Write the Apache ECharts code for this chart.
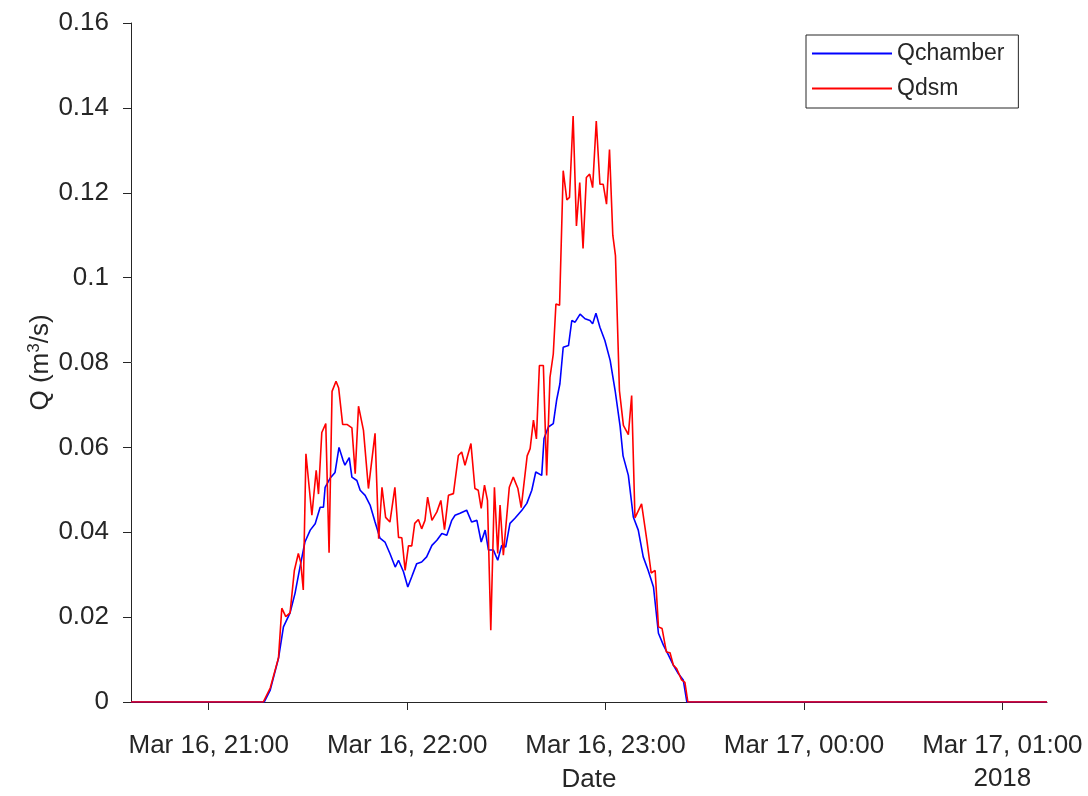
<!DOCTYPE html>
<html>
<head>
<meta charset="utf-8">
<script src="https://cdn.jsdelivr.net/npm/echarts@6/dist/echarts.min.js"></script>
<style>
html,body{margin:0;padding:0;background:#fff;}
#chart{width:1088px;height:796px;}
</style>
</head>
<body>
<div id="chart"></div>
<script>
// Time is in minutes after Mar 16, 21:00
const xMin = -23.5;
const xMax = 253.5;
const tickMinutes = [0, 60, 120, 180, 240];
const tickLabels = ['Mar 16, 21:00', 'Mar 16, 22:00', 'Mar 16, 23:00', 'Mar 17, 00:00', 'Mar 17, 01:00'];
const yearLabel = '2018';
const yTicks = [0, 0.02, 0.04, 0.06, 0.08, 0.1, 0.12, 0.14, 0.16];

const chamberTime = [-23.5, 16.8, 18.6, 21.1, 22.6, 24.6, 26.1, 27.6, 29.1, 30.7, 32.2, 33.7, 34.7, 35.2, 36.7, 38.2, 39.4, 40.6, 41.2, 42.5, 43.3, 44.8, 45.8, 47.3, 48.8, 50.3, 51.8, 53.3, 54.8, 56.4, 57.4, 58.9, 60.2, 61.4, 62.9, 64.4, 65.9, 67.5, 69.0, 70.5, 72.0, 73.5, 74.5, 76.0, 78.0, 79.5, 81.1, 82.4, 83.6, 84.6, 86.1, 87.4, 88.6, 89.8, 91.1, 92.6, 94.7, 96.2, 97.7, 98.9, 100.7, 101.4, 102.7, 104.2, 105.2, 106.2, 107.2, 108.8, 109.8, 110.8, 112.3, 113.8, 115.3, 116.1, 117.1, 118.3, 119.8, 121.4, 122.9, 124.4, 125.3, 126.9, 128.4, 129.9, 131.4, 132.9, 134.5, 136.0, 137.5, 139.0, 140.5, 142.0, 143.5, 144.6, 253.5];
const chamberQ = [0, 0, 0.0028, 0.0103, 0.0177, 0.021, 0.0256, 0.0318, 0.0377, 0.0405, 0.042, 0.0459, 0.0459, 0.0506, 0.0527, 0.0541, 0.060, 0.057, 0.0558, 0.0576, 0.053, 0.0522, 0.0499, 0.0487, 0.0464, 0.0424, 0.0386, 0.0377, 0.035, 0.0318, 0.0334, 0.0307, 0.0271, 0.0295, 0.0326, 0.033, 0.0342, 0.0369, 0.0381, 0.0397, 0.0393, 0.0428, 0.044, 0.0445, 0.0452, 0.0424, 0.0428, 0.0377, 0.0405, 0.0358, 0.0358, 0.0334, 0.0369, 0.0365, 0.0421, 0.0433, 0.0452, 0.0468, 0.0499, 0.0542, 0.0534, 0.0621, 0.0648, 0.0656, 0.0711, 0.075, 0.0836, 0.084, 0.0899, 0.0895, 0.0914, 0.0903, 0.0899, 0.0891, 0.0916, 0.0883, 0.0852, 0.0805, 0.0734, 0.065, 0.058, 0.0534, 0.0436, 0.0405, 0.0342, 0.031, 0.0271, 0.0162, 0.0134, 0.0111, 0.0087, 0.0067, 0.0052, 0, 0];

const dsmTime = [-23.5, 16.5, 18.6, 21.1, 22.1, 23.3, 24.6, 25.9, 27.1, 27.8, 28.6, 29.4, 31.2, 32.5, 33.2, 34.2, 35.4, 36.4, 37.3, 38.5, 39.3, 40.5, 41.8, 43.3, 44.3, 45.3, 46.8, 48.3, 50.3, 51.4, 52.4, 53.5, 54.8, 56.3, 57.4, 58.4, 59.4, 60.4, 61.4, 62.3, 63.4, 64.4, 65.4, 66.2, 67.5, 69.0, 70.2, 71.3, 72.5, 74.0, 75.5, 76.5, 77.5, 79.3, 80.5, 81.5, 82.4, 83.4, 84.3, 85.3, 86.4, 87.4, 88.1, 89.1, 90.9, 92.1, 93.5, 94.5, 96.3, 97.2, 98.2, 99.1, 100.0, 101.2, 102.2, 103.2, 104.2, 105.0, 106.1, 107.2, 108.3, 109.1, 110.2, 111.2, 112.2, 113.2, 114.2, 115.2, 116.1, 117.2, 118.3, 119.3, 120.3, 121.2, 122.2, 123.0, 124.2, 125.4, 126.9, 127.9, 128.9, 130.9, 132.5, 133.8, 135.0, 136.0, 137.1, 138.4, 139.5, 140.5, 141.5, 143.0, 144.0, 144.9, 253.5];
const dsmQ = [0, 0, 0.0033, 0.0104, 0.0221, 0.0201, 0.021, 0.031, 0.035, 0.033, 0.0264, 0.0585, 0.044, 0.0546, 0.049, 0.0635, 0.0656, 0.0352, 0.0732, 0.0756, 0.074, 0.0654, 0.0654, 0.0646, 0.0538, 0.0697, 0.064, 0.0503, 0.0633, 0.0385, 0.0506, 0.0435, 0.0424, 0.0506, 0.0388, 0.0387, 0.031, 0.0368, 0.0368, 0.0421, 0.043, 0.0408, 0.0428, 0.0483, 0.0428, 0.0448, 0.0475, 0.0406, 0.0487, 0.0491, 0.0581, 0.0589, 0.0558, 0.0609, 0.0503, 0.0499, 0.0456, 0.0511, 0.0475, 0.0169, 0.0506, 0.035, 0.0464, 0.0346, 0.0506, 0.053, 0.0503, 0.0458, 0.058, 0.0597, 0.0664, 0.062, 0.0793, 0.0793, 0.0534, 0.0765, 0.082, 0.0938, 0.0935, 0.1252, 0.1183, 0.1189, 0.1381, 0.1122, 0.1224, 0.1069, 0.1236, 0.1244, 0.1212, 0.1369, 0.122, 0.122, 0.1173, 0.1302, 0.11, 0.1052, 0.0734, 0.0652, 0.063, 0.0722, 0.0434, 0.0467, 0.0381, 0.0304, 0.031, 0.0177, 0.0173, 0.0118, 0.0116, 0.0087, 0.0079, 0.0052, 0.0046, 0, 0];

const TXT = '#262626';
const FONT = 'Liberation Sans';
const pairs = (t, v) => t.map((x, i) => [x, v[i]]);

const chart = echarts.init(document.getElementById('chart'), null, {renderer: 'canvas'});
chart.setOption({
  animation: false,
  backgroundColor: '#ffffff',
  textStyle: {fontFamily: FONT, color: TXT},
  grid: {left: 131, right: 41, top: 23, bottom: 94, containLabel: false, outerBoundsMode: 'none'},
  legend: {
    data: ['Qchamber', 'Qdsm'],
    orient: 'vertical',
    left: 806, top: 35,
    padding: [7, 14, 8, 6],
    icon: 'rect',
    itemWidth: 80, itemHeight: 2, itemGap: 12,
    backgroundColor: '#ffffff',
    borderColor: TXT, borderWidth: 1, borderRadius: 0,
    textStyle: {fontFamily: FONT, fontSize: 23, color: TXT, lineHeight: 23}
  },
  xAxis: {
    type: 'value', min: xMin, max: xMax,
    name: 'Date', nameLocation: 'middle', nameGap: 65, nameMoveOverlap: false,
    nameTextStyle: {fontFamily: FONT, fontSize: 26, color: TXT},
    axisLine: {show: true, onZero: false, lineStyle: {color: TXT, width: 1}},
    axisTick: {show: true, inside: false, length: 8, customValues: tickMinutes, lineStyle: {color: TXT}},
    axisLabel: {
      customValues: tickMinutes, margin: 27, fontFamily: FONT, fontSize: 26, color: TXT, lineHeight: 33,
      formatter: (v) => {
        const i = tickMinutes.indexOf(v);
        const s = i >= 0 ? tickLabels[i] : '';
        return i === tickMinutes.length - 1 ? s + '\n' + yearLabel : s;
      }
    },
    splitLine: {show: false}
  },
  yAxis: {
    type: 'value', min: yTicks[0], max: yTicks[yTicks.length - 1], interval: 0.02,
    name: 'Q (m{sup|3}/s)', nameLocation: 'middle', nameGap: 76, nameRotate: 90, nameMoveOverlap: false,
    nameTextStyle: {
      fontFamily: FONT, fontSize: 26, color: TXT,
      rich: {sup: {fontFamily: FONT, fontSize: 17, color: TXT, padding: [0, 0, 12, 0]}}
    },
    axisLine: {show: true, onZero: false, lineStyle: {color: TXT, width: 1}},
    axisTick: {show: true, inside: false, length: 8, lineStyle: {color: TXT}},
    axisLabel: {margin: 22, fontFamily: FONT, fontSize: 26, color: TXT,
      formatter: (v) => String(+v.toFixed(2))},
    splitLine: {show: false}
  },
  series: [
    {name: 'Qchamber', type: 'line', data: pairs(chamberTime, chamberQ), symbol: 'none',
     lineStyle: {color: '#0000ff', width: 1.6}, itemStyle: {color: '#0000ff'}},
    {name: 'Qdsm', type: 'line', data: pairs(dsmTime, dsmQ), symbol: 'none',
     lineStyle: {color: '#ff0000', width: 1.6}, itemStyle: {color: '#ff0000'}}
  ]
});
</script>
</body>
</html>
